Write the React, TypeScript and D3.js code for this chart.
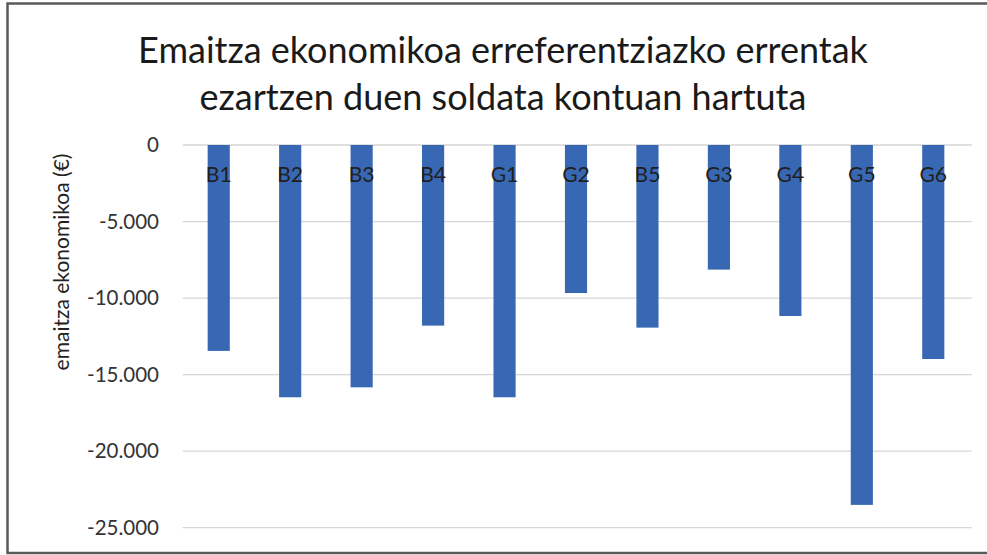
import React from "react";
import * as d3 from "d3";

const categories = ["B1", "B2", "B3", "B4", "G1", "G2", "B5", "G3", "G4", "G5", "G6"];
const values = [-13450, -16480, -15830, -11800, -16480, -9670, -11930, -8140, -11170, -23510, -13980];
const yTicks = [0, -5000, -10000, -15000, -20000, -25000];
const titleLines = ["Emaitza ekonomikoa erreferentziazko errentak", "ezartzen duen soldata kontuan hartuta"];
const yTitle = "emaitza ekonomikoa (€)";

const W = 987;
const H = 555;
const FONT = "Lato, 'Noto Sans', sans-serif";

export default function App() {
  const x = d3.scaleBand<string>().domain(categories).range([183, 969]).paddingInner(0.69).paddingOuter(0.345);
  const y = d3.scaleLinear().domain([-25000, 0]).range([527.7, 145]);
  const fmt = (v: number) => (v === 0 ? "0" : d3.format(",")(v).replace(/,/g, ".").replace("−", "-"));

  return (
    <svg width={W} height={H} style={{ position: "absolute", left: 0, top: 0, background: "#fff" }}>
      <rect x={0} y={0} width={W} height={H} fill="#fff" />
      <path d={`M${W} 3.5 H7.5 V553 H${W}`} fill="none" stroke="#5a5a5a" strokeWidth={2.5} />
      {titleLines.map((t, i) => (
        <text key={i} x={503} y={63 + i * 47} textAnchor="middle" fontFamily={FONT} fontSize={36} fill="#1a1a1a">
          {t}
        </text>
      ))}
      {yTicks.map((t) => (
        <g key={t}>
          <line x1={182.7} x2={971.7} y1={y(t)} y2={y(t)} stroke="#d6d6d6" strokeWidth={1.3} />
          <text x={159} y={y(t)} dy="0.35em" textAnchor="end" fontFamily={FONT} fontSize={20.5} fill="#333">
            {fmt(t)}
          </text>
        </g>
      ))}
      {categories.map((c, i) => (
        <rect key={c} x={x(c)} y={y(0)} width={x.bandwidth()} height={y(values[i]) - y(0)} fill="#3868b3" />
      ))}
      {categories.map((c) => (
        <text key={c} x={(x(c) as number) + x.bandwidth() / 2} y={175} dy="0.35em" textAnchor="middle" fontFamily={FONT} fontSize={21} fill="#1f1f1f">
          {c}
        </text>
      ))}
      <text transform={`translate(62,262) rotate(-90)`} textAnchor="middle" dy="0.35em" fontFamily={FONT} fontSize={21} fill="#222">
        {yTitle}
      </text>
    </svg>
  );
}
